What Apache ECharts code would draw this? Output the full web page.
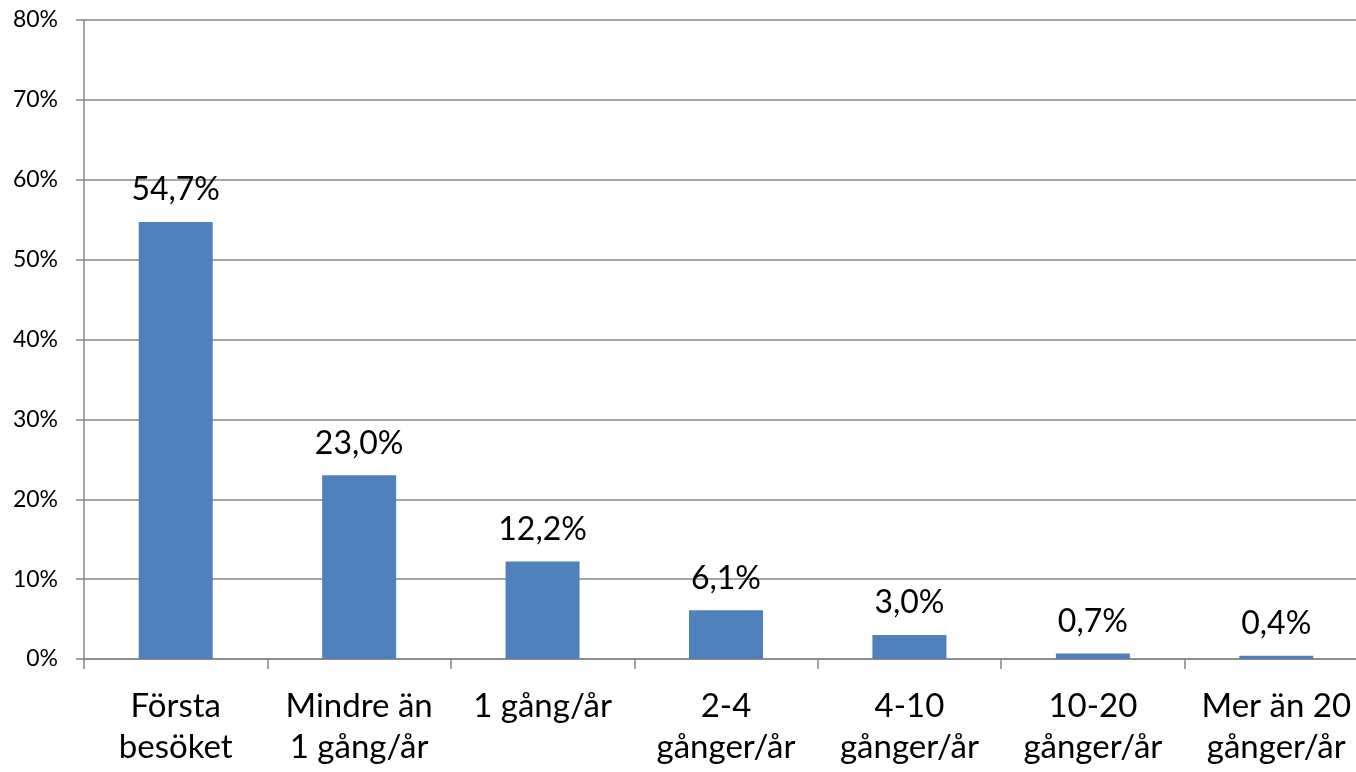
<!DOCTYPE html>
<html>
<head>
<meta charset="utf-8">
<script src="https://cdn.jsdelivr.net/npm/echarts@6/dist/echarts.min.js"></script>
<style>
  html, body { margin: 0; padding: 0; background: #fff; overflow: hidden; }
  #main { width: 1368px; height: 772px; }
</style>
</head>
<body>
<div id="main"></div>
<script>
// data
const categories = ['Första\nbesöket', 'Mindre än\n1 gång/år', '1 gång/år', '2-4\ngånger/år', '4-10\ngånger/år', '10-20\ngånger/år', 'Mer än 20\ngånger/år'];
const values = [54.7, 23.0, 12.2, 6.1, 3.0, 0.7, 0.4];

const chart = echarts.init(document.getElementById('main'));

const option = {
  animation: false,
  textStyle: { fontFamily: 'Lato' },
  grid: { left: 84, right: 0, top: 20, bottom: 113 },
  xAxis: {
    type: 'category',
    data: categories,
    axisLine: { lineStyle: { color: '#868686', width: 1.5 } },
    axisTick: { show: true, length: 10, lineStyle: { color: '#868686', width: 1.5 } },
    axisLabel: { color: '#000', fontSize: 33, lineHeight: 41, margin: 27, interval: 0 }
  },
  yAxis: {
    type: 'value',
    min: 0, max: 80, interval: 10,
    axisLine: { show: true, lineStyle: { color: '#868686', width: 1.5 } },
    axisTick: { show: true, length: 8, lineStyle: { color: '#868686', width: 1.5 } },
    axisLabel: { color: '#000', fontSize: 23, margin: 26, formatter: '{value}%' },
    splitLine: { lineStyle: { color: '#868686', width: 1.5 } }
  },
  series: [{
    type: 'bar',
    data: values,
    barWidth: 74,
    itemStyle: { color: '#4F81BD' },
    label: {
      show: true,
      position: 'top',
      distance: 16,
      color: '#000',
      fontSize: 32,
      formatter: p => p.value.toFixed(1).replace('.', ',') + '%'
    }
  }]
};

chart.setOption(option);
</script>
</body>
</html>
